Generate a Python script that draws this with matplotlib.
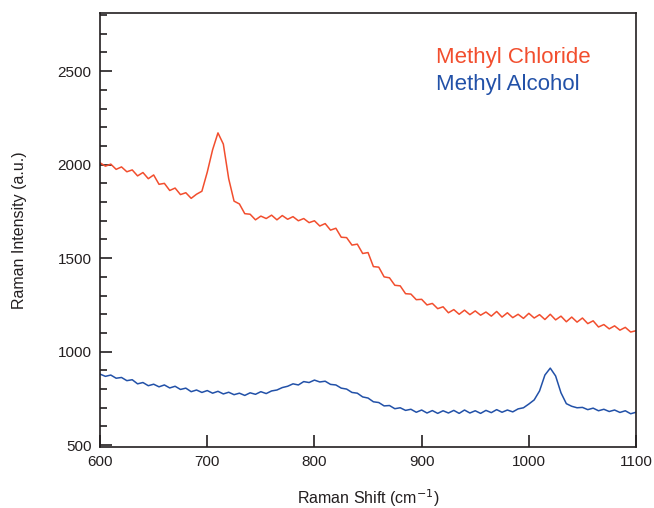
import matplotlib
matplotlib.use('Agg')
import matplotlib.pyplot as plt
from matplotlib.ticker import MultipleLocator

plt.rcParams['font.family'] = ['Liberation Sans', 'DejaVu Sans']

# Raman shift axis (cm-1), sampled every 5 cm-1
shift = list(range(600, 1101, 5))

# intensities
methyl_chloride = [
    2010, 1992, 2003, 1975, 1988, 1962, 1972, 1940, 1958, 1925,
    1945, 1895, 1900, 1862, 1875, 1840, 1850, 1820, 1842, 1858,
    1960, 2080, 2170, 2110, 1925, 1805, 1790, 1738, 1735, 1705,
    1725, 1712, 1730, 1705, 1728, 1708, 1722, 1700, 1712, 1690,
    1700, 1672, 1685, 1650, 1660, 1612, 1610, 1570, 1575, 1525,
    1530, 1455, 1452, 1400, 1395, 1355, 1352, 1310, 1308, 1278,
    1280, 1250, 1258, 1230, 1240, 1208, 1225, 1200, 1222, 1198,
    1218, 1195, 1212, 1190, 1215, 1185, 1208, 1182, 1200, 1178,
    1205, 1180, 1198, 1172, 1200, 1170, 1190, 1160, 1185, 1158,
    1180, 1150, 1165, 1132, 1145, 1122, 1138, 1115, 1130, 1105,
    1112,
]
methyl_alcohol = [
    880, 868, 875, 858, 862, 845, 850, 828, 835, 818,
    826, 812, 822, 806, 815, 798, 805, 786, 795, 782,
    792, 778, 788, 774, 783, 770, 778, 766, 780, 772,
    786, 776, 790, 795, 808, 815, 828, 822, 840, 835,
    848, 838, 842, 825, 822, 805, 800, 782, 778, 758,
    752, 732, 728, 710, 712, 695, 700, 686, 692, 676,
    688, 672, 685, 670, 684, 672, 686, 670, 688, 672,
    684, 670, 686, 674, 690, 676, 688, 678, 694, 700,
    720, 742, 790, 875, 912, 870, 780, 722, 708, 700,
    702, 690, 698, 684, 692, 680, 688, 675, 684, 668,
    676,
]

red = '#f24e2e'
blue = '#2251a8'
ink = '#231f20'

fig = plt.figure(figsize=(6.54, 5.08), dpi=100)
ax = fig.add_axes([0.153, 0.120, 0.8195, 0.854])

ax.plot(shift, methyl_chloride, color=red, lw=1.1)
ax.plot(shift, methyl_alcohol, color=blue, lw=1.1)

ax.set_xlim(600, 1100)
ax.set_ylim(490, 2810)
ax.xaxis.set_major_locator(MultipleLocator(100))
ax.yaxis.set_major_locator(MultipleLocator(500))
ax.yaxis.set_minor_locator(MultipleLocator(100))

ax.tick_params(which='both', direction='in', top=False, right=False,
               colors=ink, labelsize=11, width=1.2, pad=6)
ax.tick_params(which='major', length=8.5)
ax.tick_params(which='minor', length=5)
for s in ax.spines.values():
    s.set_linewidth(1.2)
    s.set_color(ink)

ax.set_xlabel('Raman Shift (cm$^{-1}$)', fontsize=11.5, color=ink, labelpad=13)
ax.set_ylabel('Raman Intensity (a.u.)', fontsize=11.5, color=ink, labelpad=22)

ax.text(0.627, 0.885, 'Methyl Chloride', color=red, fontsize=16,
        transform=ax.transAxes, va='baseline')
ax.text(0.627, 0.8226, 'Methyl Alcohol', color=blue, fontsize=16,
        transform=ax.transAxes, va='baseline')

fig.savefig('out.png', dpi=100)
